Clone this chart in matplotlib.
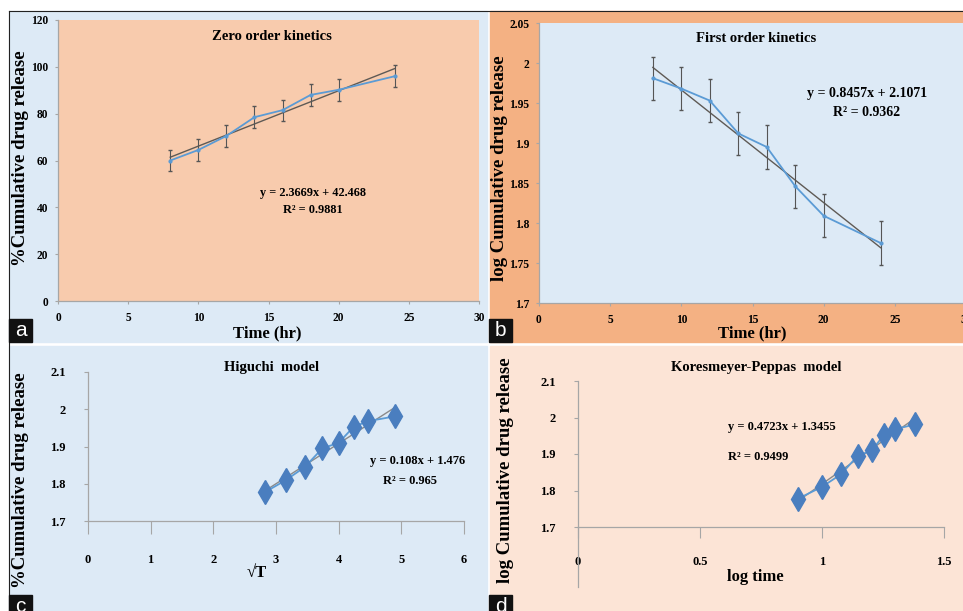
import matplotlib
matplotlib.use("Agg")
import matplotlib.pyplot as plt
from matplotlib.patches import Rectangle
import numpy as np

plt.rcParams['font.family'] = ['Liberation Serif', 'DejaVu Serif']
plt.rcParams['font.weight'] = 'bold'

W, H = 963, 611

# data
time_hr = [8, 10, 12, 14, 16, 18, 20, 24]
cum_release = [60.0, 64.5, 70.5, 78.5, 81.5, 88.0, 90.2, 96.0]
cum_err = [4.5, 4.5, 4.7, 4.8, 4.5, 4.6, 4.7, 4.6]
log_release = [1.981, 1.968, 1.953, 1.912, 1.895, 1.846, 1.809, 1.775]
log_err = [0.027, 0.027, 0.027, 0.027, 0.027, 0.027, 0.027, 0.027]
sqrt_t = [2.83, 3.16, 3.46, 3.74, 4.00, 4.24, 4.47, 4.90]
higuchi_y = [1.778, 1.810, 1.845, 1.895, 1.910, 1.953, 1.968, 1.981]
log_time = [0.903, 1.000, 1.079, 1.146, 1.204, 1.255, 1.301, 1.380]
peppas_y = [1.778, 1.810, 1.845, 1.895, 1.910, 1.953, 1.968, 1.981]

zero_fit = (2.3669, 42.468)
higuchi_fit = (0.108, 1.476)
peppas_fit = (0.4723, 1.3455)

LBLUE = '#ddeaf6'
PEACH = '#f8cbad'
ORANGE = '#f4b183'
LPEACH = '#fce4d6'
BLUE = '#5b9bd5'
DBLUE = '#4a7ebf'
TREND = '#5f5a55'
AXC = '#a6a6a6'

fig = plt.figure(figsize=(W / 100, H / 100), dpi=100)
fig.patch.set_facecolor('white')


def rect(x0, y0, x1, y1, color):
    fig.patches.append(Rectangle((x0 / W, 1 - y1 / H), (x1 - x0) / W, (y1 - y0) / H,
                                 transform=fig.transFigure, color=color, zorder=-10))


def axes_px(l, t, r, b):
    ax = fig.add_axes([l / W, 1 - b / H, (r - l) / W, (b - t) / H])
    ax.set_zorder(1)
    return ax


def txt(x, y, s, **kw):
    fig.text(x / W, 1 - y / H, s, **kw)


# panel backgrounds
rect(9, 11, 487, 342, LBLUE)
rect(490, 11, 963, 342, ORANGE)
rect(9, 346, 487, 611, LBLUE)
rect(490, 346, 963, 611, LPEACH)
fig.add_artist(plt.Line2D([9 / W, 1], [1 - 11 / H, 1 - 11 / H], color='#222222', lw=0.8))
fig.add_artist(plt.Line2D([9 / W, 9 / W], [0, 1 - 11 / H], color='#222222', lw=0.8))


def style(ax, face, xlen=2, ylen=2, xpad=6, ypad=6, size=8.3):
    ax.set_facecolor(face)
    for s in ['top', 'right']:
        ax.spines[s].set_visible(False)
    for s in ['left', 'bottom']:
        ax.spines[s].set_color(AXC)
        ax.spines[s].set_linewidth(0.9)
    ax.tick_params(axis='x', length=xlen, color=AXC, pad=xpad, labelsize=size)
    ax.tick_params(axis='y', length=ylen, color=AXC, pad=ypad, labelsize=size)


def fmt(v):
    return ('%g' % v)


# ---- a: zero order
ax = axes_px(58, 20, 479, 301)
style(ax, PEACH, xpad=6, ypad=5)
ax.set_xlim(0, 30)
ax.set_ylim(0, 120)
ax.set_xticks(range(0, 31, 5))
ax.set_yticks(range(0, 121, 20))
xs = np.array([time_hr[0], time_hr[-1]])
ax.plot(xs, zero_fit[0] * xs + zero_fit[1], color=TREND, lw=1)
ax.errorbar(time_hr, cum_release, yerr=cum_err, color=BLUE, lw=1.3, marker='o', ms=2,
            ecolor='#555555', elinewidth=0.8, capsize=1.5)
txt(272, 36, 'Zero order kinetics', ha='center', va='center', fontsize=10.5)
txt(313, 193, 'y = 2.3669x + 42.468', ha='center', va='center', fontsize=8.8)
txt(313, 210, 'R² = 0.9881', ha='center', va='center', fontsize=8.8)
txt(267, 333, 'Time (hr)', ha='center', va='center', fontsize=12)
txt(21, 158, '%Cumulative drug release', ha='center', va='center', rotation=90, fontsize=13.5)

# ---- b: first order
ax = axes_px(539, 23, 966, 303)
style(ax, LBLUE, xpad=6, ypad=5)
ax.set_xlim(0, 30)
ax.set_ylim(1.7, 2.05)
ax.set_xticks(range(0, 31, 5))
yt = [1.7, 1.75, 1.8, 1.85, 1.9, 1.95, 2.0, 2.05]
ax.set_yticks(yt)
ax.set_yticklabels([fmt(v) for v in yt])
k, c0 = np.polyfit(time_hr, log_release, 1)
ax.plot(xs, k * xs + c0, color=TREND, lw=1)
ax.errorbar(time_hr, log_release, yerr=log_err, color=BLUE, lw=1.3, marker='o', ms=2,
            ecolor='#555555', elinewidth=0.8, capsize=1.5)
txt(756, 38, 'First order kinetics', ha='center', va='center', fontsize=10.5)
txt(867, 93, 'y = 0.8457x + 2.1071', ha='center', va='center', fontsize=10)
txt(867, 113, 'R² = 0.9362', ha='center', va='center', fontsize=10)
txt(752, 333, 'Time (hr)', ha='center', va='center', fontsize=12)
txt(499, 168, 'log Cumulative drug release', ha='center', va='center', rotation=90, fontsize=13.5)

# ---- c: Higuchi
ax = axes_px(88, 372, 464, 521)
style(ax, 'none', xlen=9, ylen=3, xpad=15, ypad=13, size=9)
ax.set_xlim(0, 6)
ax.set_ylim(1.7, 2.1)
ax.set_xticks(range(0, 7))
yt = [1.7, 1.8, 1.9, 2.0, 2.1]
ax.set_yticks(yt)
ax.set_yticklabels([fmt(v) for v in yt])
xs = np.array([sqrt_t[0], sqrt_t[-1]])
ax.plot(xs, higuchi_fit[0] * xs + higuchi_fit[1], color='#8a8a8a', lw=1)
ax.plot(sqrt_t, higuchi_y, color=BLUE, lw=1.3, marker='d', ms=12, mfc=DBLUE, mec=DBLUE)
txt(272, 368, 'Higuchi  model', ha='center', va='center', fontsize=10.5)
txt(418, 461, 'y = 0.108x + 1.476', ha='center', va='center', fontsize=9)
txt(410, 481, 'R² = 0.965', ha='center', va='center', fontsize=9)
txt(257, 573, '√T', ha='center', va='center', fontsize=12)
txt(21, 480, '%Cumulative drug release', ha='center', va='center', rotation=90, fontsize=13.5)

# ---- d: Korsmeyer-Peppas
ax = axes_px(578, 381, 944, 527)
style(ax, 'none', xlen=8, ylen=3, xpad=13, ypad=13, size=9)
ax.set_xlim(0, 1.5)
ax.set_ylim(1.7, 2.1)
xt = [0, 0.5, 1, 1.5]
ax.set_xticks(xt)
ax.set_xticklabels([fmt(v) for v in xt])
ax.set_yticks(yt)
ax.set_yticklabels([fmt(v) for v in yt])
ax.plot([0, 0], [0, -0.41], transform=ax.transAxes, color=AXC, lw=0.9, clip_on=False)
xs = np.array([log_time[0], log_time[-1]])
ax.plot(xs, peppas_fit[0] * xs + peppas_fit[1], color='#8a8a8a', lw=1)
ax.plot(log_time, peppas_y, color=BLUE, lw=1.3, marker='d', ms=12, mfc=DBLUE, mec=DBLUE)
txt(756, 368, 'Koresmeyer-Peppas  model', ha='center', va='center', fontsize=10.5)
txt(728, 427, 'y = 0.4723x + 1.3455', ha='left', va='center', fontsize=9)
txt(728, 457, 'R² = 0.9499', ha='left', va='center', fontsize=9)
txt(755, 577, 'log time', ha='center', va='center', fontsize=12)
txt(505, 470, 'log Cumulative drug release', ha='center', va='center', rotation=90, fontsize=13.5)

# panel letters
for (x0, y0, letter) in [(9, 319, 'a'), (489, 319, 'b'), (9, 595, 'c'), (489, 595, 'd')]:
    fig.patches.append(Rectangle((x0 / W, 1 - (y0 + 23) / H), 23 / W, 23 / H,
                                 transform=fig.transFigure, color='#111111', zorder=5))
    txt(x0 + 11.5, y0 + 12, letter, ha='center', va='center', color='white',
        fontsize=15, family=['Liberation Sans', 'DejaVu Sans'], weight='normal', zorder=6)

fig.savefig('out.png', dpi=100)
